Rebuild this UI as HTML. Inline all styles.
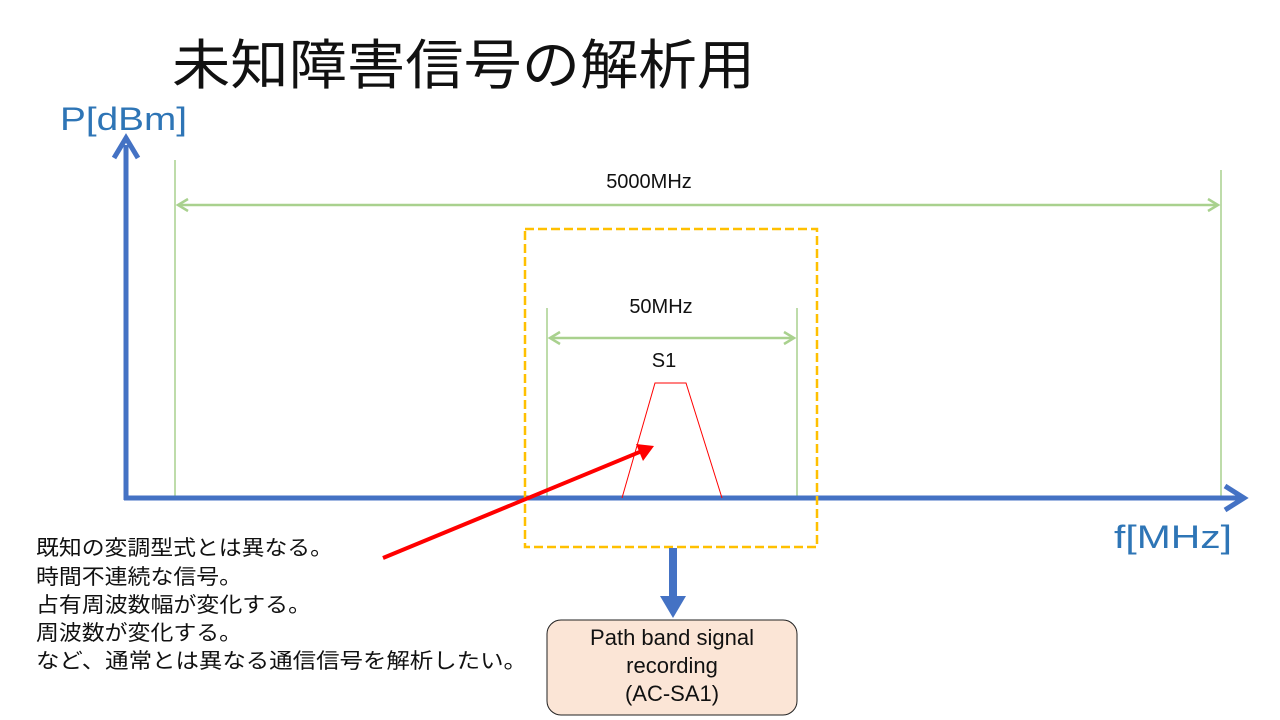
<!DOCTYPE html>
<html><head><meta charset="utf-8"><style>
body{margin:0;width:1280px;height:720px;background:#fff;overflow:hidden;font-family:"Liberation Sans","Noto Sans CJK JP",sans-serif}
</style></head><body>
<svg width="1280" height="720" xmlns="http://www.w3.org/2000/svg" style="position:absolute;left:0;top:0" font-family="'Liberation Sans','Noto Sans CJK JP',sans-serif">
<text x="172" y="84" font-size="54" fill="#111" textLength="583" lengthAdjust="spacingAndGlyphs">未知障害信号の解析用</text>
<text x="60" y="130" font-size="32" fill="#2E75B6" textLength="127" lengthAdjust="spacingAndGlyphs">P[dBm]</text>
<text x="1114" y="548" font-size="32" fill="#2E75B6" textLength="118" lengthAdjust="spacingAndGlyphs">f[MHz]</text>
<g stroke="#A9D18E" stroke-width="1.5" fill="none">
<line x1="175" y1="160" x2="175" y2="500"/>
<line x1="1221" y1="170" x2="1221" y2="500"/>
<line x1="547" y1="308" x2="547" y2="500"/>
<line x1="797" y1="308" x2="797" y2="500"/>
</g>
<g stroke="#A9D18E" stroke-width="2.5" fill="none">
<line x1="178" y1="205" x2="1218" y2="205"/>
<polyline points="188,199 178,205 188,211"/>
<polyline points="1208,199 1218,205 1208,211"/>
<line x1="550" y1="338" x2="794" y2="338"/>
<polyline points="560,332 550,338 560,344"/>
<polyline points="784,332 794,338 784,344"/>
</g>
<text x="649" y="188" font-size="20" text-anchor="middle" fill="#111">5000MHz</text>
<text x="661" y="313" font-size="20" text-anchor="middle" fill="#111">50MHz</text>
<text x="664" y="367" font-size="20" text-anchor="middle" fill="#111">S1</text>
<line x1="126" y1="500" x2="126" y2="145" stroke="#4472C4" stroke-width="5"/>
<polyline points="114,158 126,138 138,158" stroke="#4472C4" stroke-width="5" fill="none"/>
<line x1="124" y1="498" x2="1240" y2="498" stroke="#4472C4" stroke-width="5"/>
<polyline points="1225,486 1244,498 1225,510" stroke="#4472C4" stroke-width="5" fill="none"/>
<polyline points="622,498 655,383 686,383 722,498" stroke="#FF0000" stroke-width="1" fill="none"/>
<rect x="525" y="229" width="292" height="318" fill="none" stroke="#FFC000" stroke-width="2.5" stroke-dasharray="9,4"/>
<line x1="383" y1="558" x2="642" y2="451" stroke="#FF0000" stroke-width="4"/>
<polygon points="654,446 636,444 643,461" fill="#FF0000"/>
<rect x="669" y="548" width="8" height="50" fill="#4472C4"/>
<polygon points="660,596 686,596 673,618" fill="#4472C4"/>
<rect x="547" y="620" width="250" height="95" rx="14" fill="#FBE5D6" stroke="#222" stroke-width="1"/>
<text font-size="22" text-anchor="middle" fill="#111"><tspan x="672" y="645">Path band signal</tspan><tspan x="672" y="673">recording</tspan><tspan x="672" y="701">(AC-SA1)</tspan></text>
<g font-size="21" fill="#111">
<text x="36" y="555" textLength="297" lengthAdjust="spacingAndGlyphs">既知の変調型式とは異なる。</text>
<text x="36" y="584" textLength="206" lengthAdjust="spacingAndGlyphs">時間不連続な信号。</text>
<text x="36" y="612" textLength="275" lengthAdjust="spacingAndGlyphs">占有周波数幅が変化する。</text>
<text x="36" y="640" textLength="206" lengthAdjust="spacingAndGlyphs">周波数が変化する。</text>
<text x="36" y="668" textLength="491" lengthAdjust="spacingAndGlyphs">など、通常とは異なる通信信号を解析したい。</text>
</g>
</svg>
</body></html>
